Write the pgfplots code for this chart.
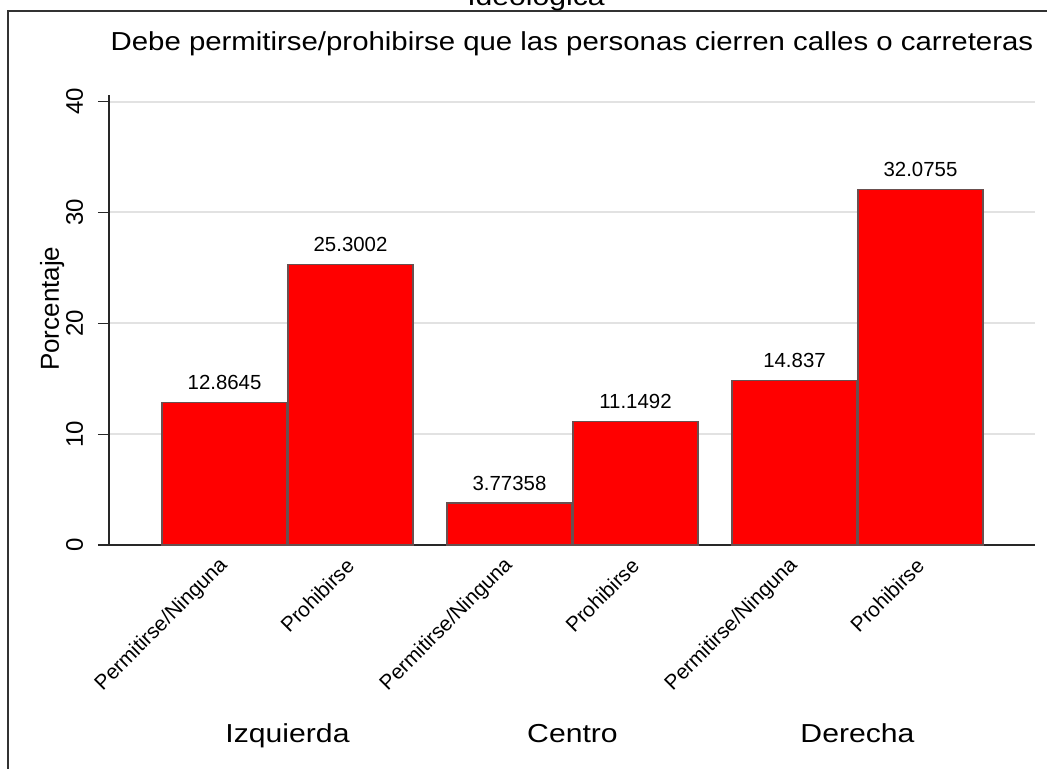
\documentclass[border=0pt]{standalone}
\usepackage{pgfplots}
\pgfplotsset{compat=1.18}
\usepackage{fontspec}
\setmainfont{Liberation Sans}
\newfontfamily\widefont{Liberation Sans}[FakeStretch=1.16]
\newfontfamily\titlefont{Liberation Sans}[FakeStretch=1.13]
\definecolor{barred}{RGB}{255,0,0}
\definecolor{baredge}{RGB}{105,80,80}
\definecolor{gridgray}{RGB}{226,226,226}
\definecolor{axisgray}{RGB}{40,40,40}
\definecolor{framegray}{RGB}{50,50,50}
\begin{document}
\begin{tikzpicture}
\path[use as bounding box] (-54.5pt,-112pt) rectangle (469pt,272.5pt);
\draw[line width=1pt, framegray] (-50.25pt,-140pt) -- (-50.25pt,267pt) -- (490pt,267pt);
\node[font=\widefont\fontsize{13}{15}\selectfont, anchor=base] at (213.5pt,269.5pt) {Ideológica};
\begin{axis}[
  at={(0pt,0pt)}, anchor=south west,
  scale only axis, width=463pt, height=225pt,
  xmin=-0.917, xmax=6.433, ymin=0, ymax=40.6,
  axis x line*=bottom, axis y line*=left,
  axis line style={-, color=axisgray, line width=0.6pt},
  ybar, bar width=0.99, bar shift=0pt,
  ytick={0,10,20,30,40},
  ymajorgrids, grid style={gridgray, line width=1pt},
  tick align=outside, major tick length=5.5pt,
  ytick style={axisgray, line width=0.6pt},
  xtick={0,1,2.262,3.262,4.524,5.524},
  xticklabels={Permitirse/Ninguna,Prohibirse,Permitirse/Ninguna,Prohibirse,Permitirse/Ninguna,Prohibirse},
  xtick style={draw=none},
  xticklabel style={yshift=-3pt, rotate=45, anchor=east, inner sep=0pt, font=\fontsize{10.4}{12}\selectfont},
  yticklabel style={xshift=-7.5pt, rotate=90, anchor=base, inner sep=0pt, font=\fontsize{12}{14}\selectfont},
  /pgf/number format/assume math mode=true,
  ylabel={Porcentaje},
  ylabel style={at={(axis description cs:-0.054,0.525)}, anchor=base, font=\fontsize{13}{15}\selectfont},
  title={Debe permitirse/prohibirse que las personas cierren calles o carreteras},
  title style={at={(axis description cs:0.5,1.0733)}, anchor=base, font=\titlefont\fontsize{13}{15}\selectfont},
  nodes near coords, point meta=explicit symbolic,
  every node near coord/.append style={anchor=south, inner sep=0pt, yshift=6pt, font=\fontsize{10.2}{12}\selectfont, color=black},
  clip=false,
]
\addplot[fill=barred, draw=baredge, line width=0.75pt] coordinates {
  (0,12.8645) [12.8645]
  (1,25.3002) [25.3002]
  (2.262,3.77358) [3.77358]
  (3.262,11.1492) [11.1492]
  (4.524,14.837) [14.837]
  (5.524,32.0755) [32.0755]
};
\node[anchor=base, font=\widefont\fontsize{13}{15}\selectfont] at ([yshift=-98.5pt]axis cs:0.5,0) {Izquierda};
\node[anchor=base, font=\widefont\fontsize{13}{15}\selectfont] at ([yshift=-98.5pt]axis cs:2.762,0) {Centro};
\node[anchor=base, font=\widefont\fontsize{13}{15}\selectfont] at ([yshift=-98.5pt]axis cs:5.024,0) {Derecha};
\end{axis}
\end{tikzpicture}
\end{document}
